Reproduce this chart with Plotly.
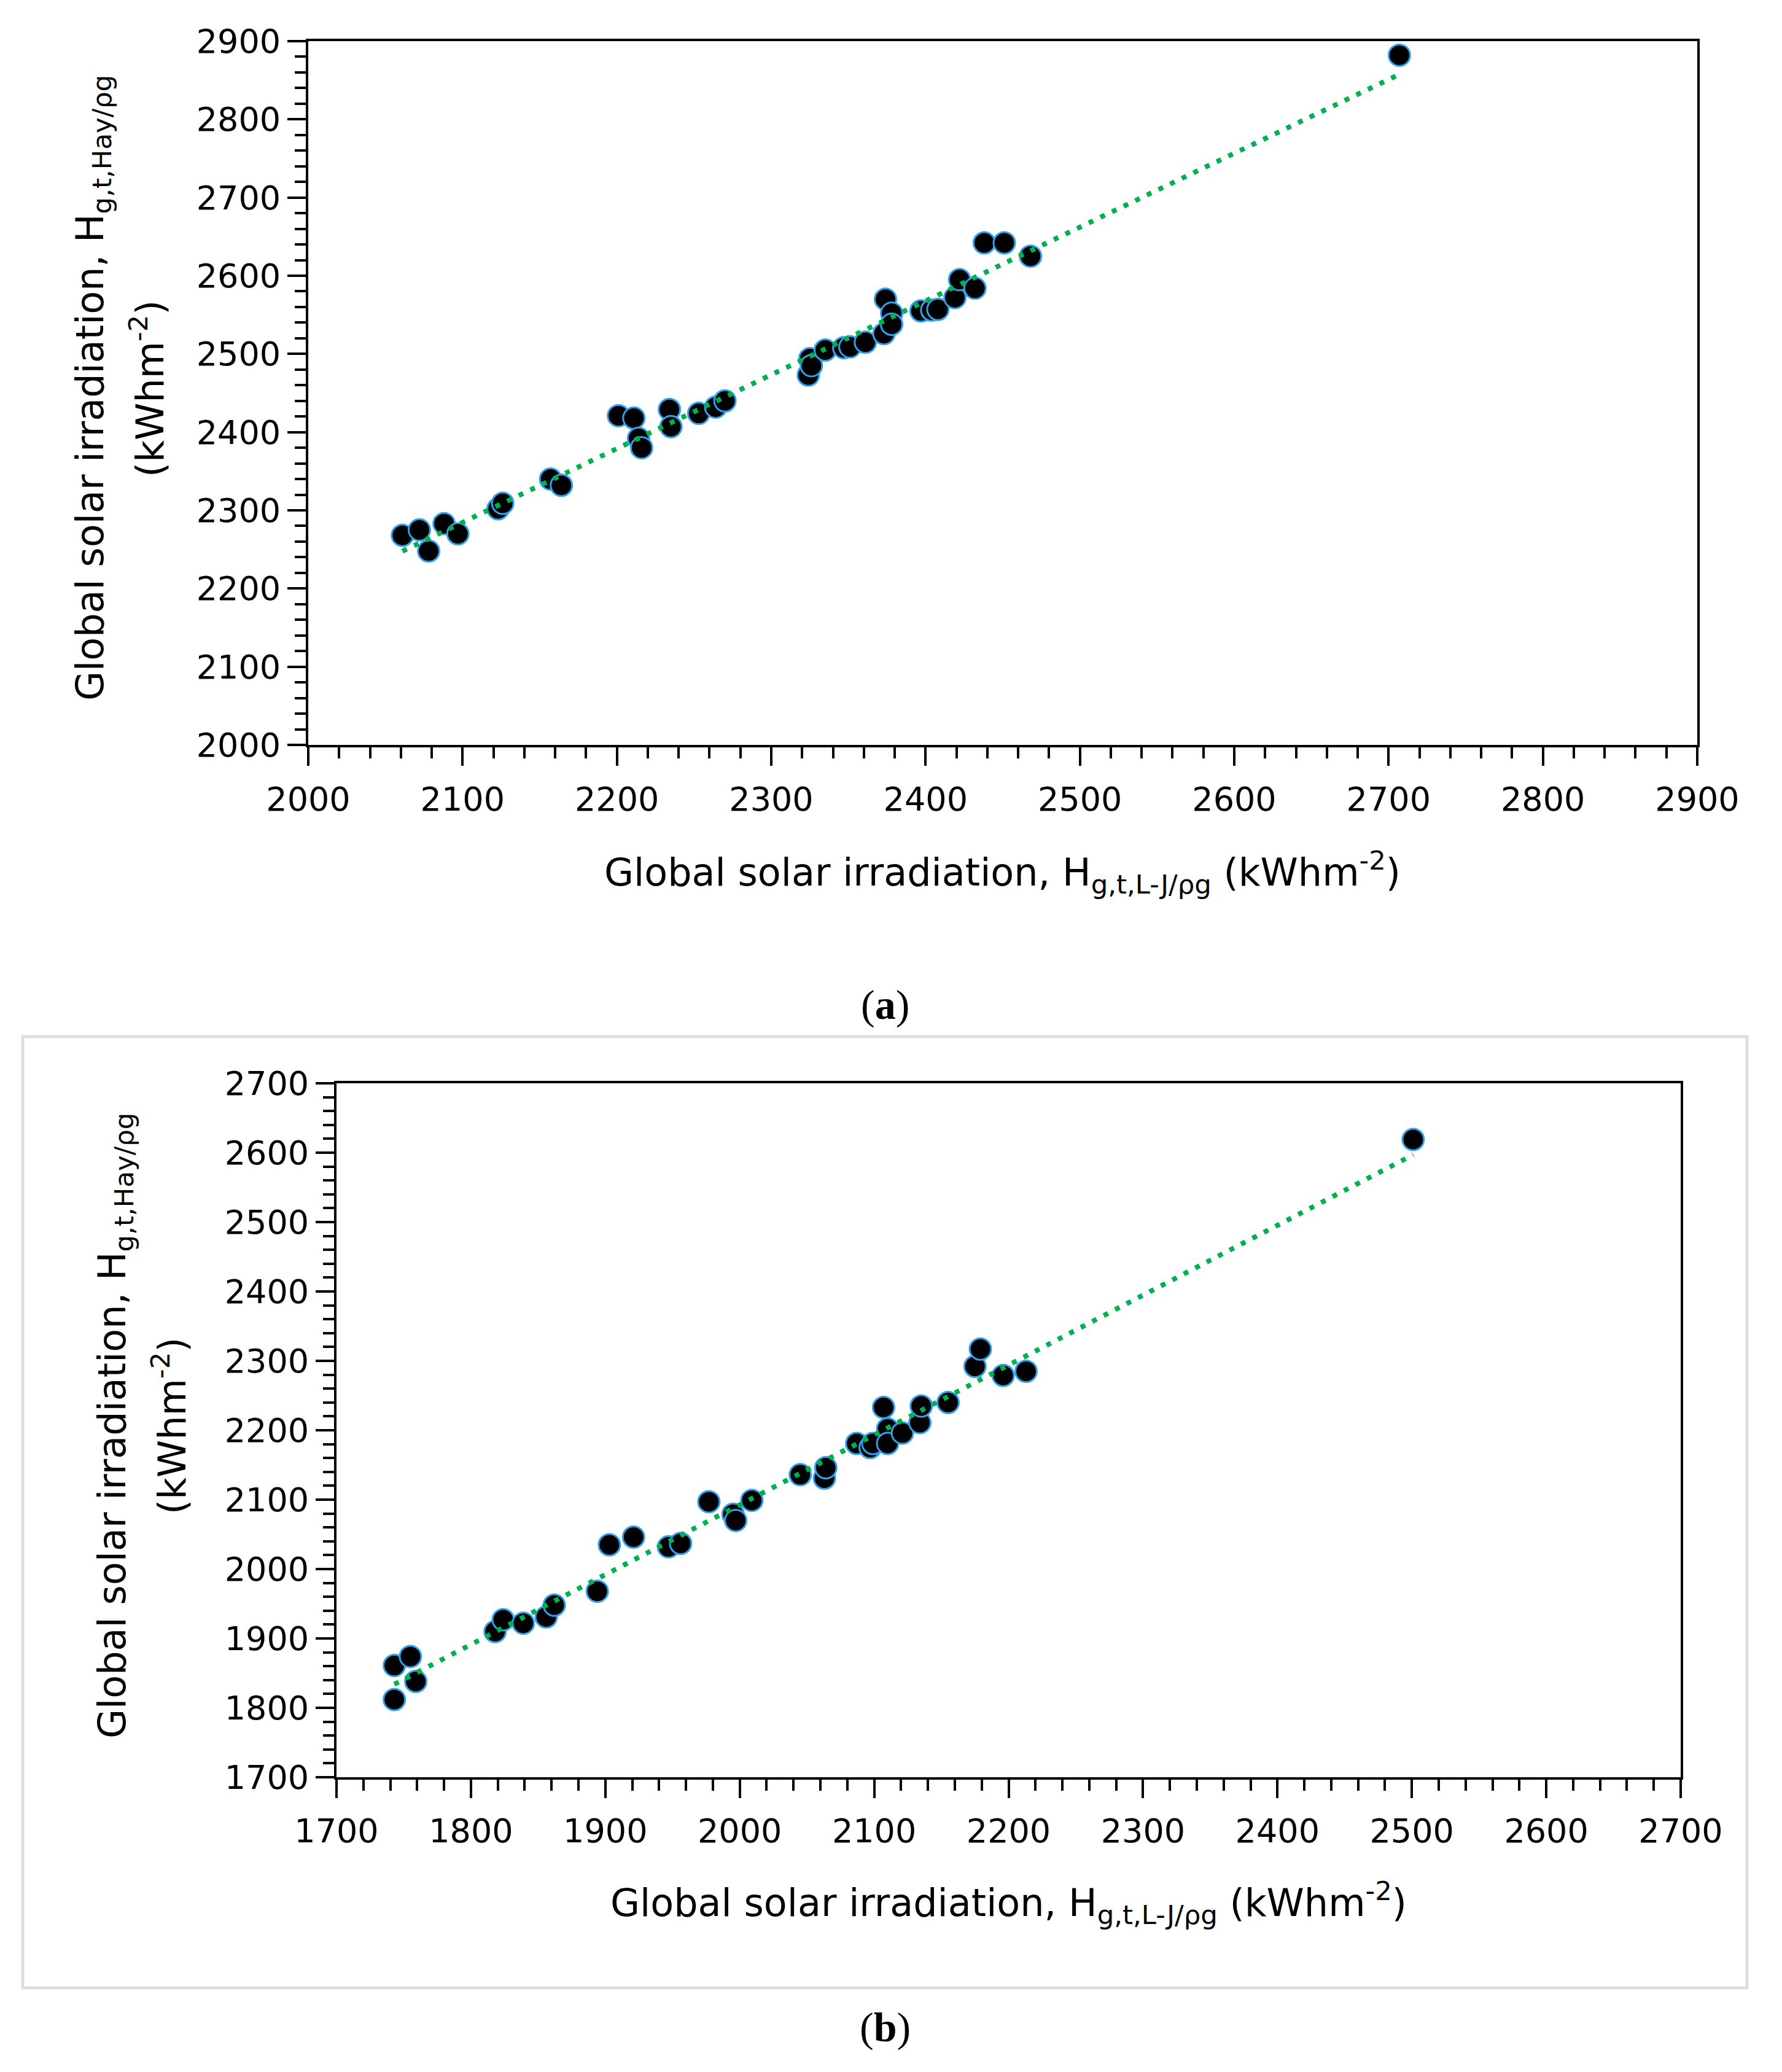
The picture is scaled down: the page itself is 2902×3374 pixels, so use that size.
import numpy as np
import plotly.graph_objects as go

W, H = 2902, 3374
OFF = 8  # page body margin in the browser

# ---------------- data (a) ----------------
a_x = [2061, 2072, 2078, 2088, 2097, 2123, 2126, 2157, 2164, 2201, 2211, 2214, 2216,
       2234, 2235, 2253, 2264, 2270, 2324, 2325, 2326, 2335, 2347, 2351, 2361, 2373,
       2374, 2378, 2378, 2397, 2404, 2408, 2419, 2422, 2432, 2438, 2451, 2468, 2707]
a_y = [2268, 2275, 2248, 2283, 2270, 2302, 2309, 2340, 2332, 2421, 2418, 2392, 2380,
       2429, 2407, 2424, 2432, 2440, 2473, 2494, 2485, 2505, 2508, 2509, 2515, 2526,
       2570, 2552, 2538, 2555, 2556, 2557, 2572, 2595, 2584, 2642, 2642, 2625, 2882]

# ---------------- data (b) ----------------
b_x = [1743, 1743, 1755, 1759, 1818, 1824, 1839, 1856, 1862, 1894, 1903, 1921, 1947,
       1956, 1977, 1995, 1997, 2009, 2045, 2063, 2064, 2087, 2097, 2099, 2107, 2110,
       2110, 2121, 2134, 2135, 2155, 2175, 2179, 2196, 2213, 2501]
b_y = [1812, 1861, 1874, 1838, 1910, 1927, 1922, 1931, 1948, 1968, 2035, 2046, 2032,
       2037, 2097, 2079, 2070, 2099, 2136, 2131, 2146, 2181, 2175, 2181, 2233, 2202,
       2181, 2196, 2211, 2235, 2240, 2292, 2317, 2279, 2285, 2619]

a_range = [2000, 2900]
b_range = [1700, 2700]

x_title = "Global solar irradiation, H<sub>g,t,L-J/ρg</sub> (kWhm<sup>-2</sup>)"
y_title1 = "Global solar irradiation, H<sub>g,t,Hay/ρg</sub>"
y_title2 = "(kWhm<sup>-2</sup>)"

# ---------------- styles ----------------
MARKER = dict(size=35, color="black", line=dict(color="rgb(50,160,235)", width=3))
TREND = dict(color="#00b050", width=8, dash="8px,13px")
TICKFONT = dict(family="DejaVu Sans", size=54, color="black")
TITLEFONT = dict(family="DejaVu Sans", size=62, color="black")


def trend(xs, ys):
    k, c = np.polyfit(xs, ys, 1)
    xx = [min(xs), max(xs)]
    return xx, [k * v + c for v in xx]


def px_x(p):
    return (p - OFF) / W


def px_y(p):
    return 1 - (p - OFF) / H


def axis(rng, domain, anchor, standoff=0):
    return dict(
        range=rng, domain=domain, anchor=anchor, dtick=100, tick0=rng[0],
        automargin=False, ticklabelstandoff=standoff,
        ticks="outside", ticklen=30, tickwidth=4, tickcolor="black",
        showline=True, linewidth=4, linecolor="black", mirror=True,
        showgrid=False, zeroline=False, tickfont=TICKFONT,
        minor=dict(dtick=20, ticks="outside", ticklen=18, tickwidth=4,
                   tickcolor="black", showgrid=False),
    )


fig = go.Figure()

fig.add_trace(go.Scatter(x=a_x, y=a_y, mode="markers", marker=MARKER,
                         xaxis="x", yaxis="y"))
tx, ty = trend(a_x, a_y)
fig.add_trace(go.Scatter(x=tx, y=ty, mode="lines", line=TREND, xaxis="x", yaxis="y"))

fig.add_trace(go.Scatter(x=b_x, y=b_y, mode="markers", marker=MARKER,
                         xaxis="x2", yaxis="y2"))
tx, ty = trend(b_x, b_y)
fig.add_trace(go.Scatter(x=tx, y=ty, mode="lines", line=TREND, xaxis="x2", yaxis="y2"))

# plot-area geometry (pixels in the final picture)
A_L, A_R, A_T, A_B = 502, 2764, 67, 1213
B_L, B_R, B_T, B_B = 548, 2737, 1764, 2894

fig.update_layout(
    template="none",
    width=W, height=H, margin=dict(l=0, r=0, t=0, b=0, autoexpand=False),
    paper_bgcolor="white", plot_bgcolor="white", showlegend=False,
    xaxis=axis(a_range, [px_x(A_L), px_x(A_R)], "y", standoff=8),
    yaxis=axis(a_range, [px_y(A_B), px_y(A_T)], "x"),
    xaxis2=axis(b_range, [px_x(B_L), px_x(B_R)], "y2", standoff=7),
    yaxis2=axis(b_range, [px_y(B_B), px_y(B_T)], "x2"),
)

ann = []
# x titles
ann.append(dict(text=x_title, x=px_x((A_L + A_R) / 2), y=px_y(1420), xref="paper", yref="paper",
                xanchor="center", yanchor="middle", showarrow=False, font=TITLEFONT))
ann.append(dict(text=x_title, x=px_x((B_L + B_R) / 2), y=px_y(3098), xref="paper", yref="paper",
                xanchor="center", yanchor="middle", showarrow=False, font=TITLEFONT))
# y titles (two lines each)
for (x1, x2, yc) in [(150, 240, 632), (186, 276, 2322)]:
    ann.append(dict(text=y_title1, x=px_x(x1), y=px_y(yc), xref="paper", yref="paper",
                    xanchor="center", yanchor="middle", textangle=-90, showarrow=False,
                    font=TITLEFONT))
    ann.append(dict(text=y_title2, x=px_x(x2), y=px_y(yc), xref="paper", yref="paper",
                    xanchor="center", yanchor="middle", textangle=-90, showarrow=False,
                    font=TITLEFONT))
# captions
CAPFONT = dict(family="Liberation Serif", size=68, color="black")
ann.append(dict(text="(<b>a</b>)", x=px_x(1441), y=px_y(1636), xref="paper", yref="paper",
                xanchor="center", yanchor="middle", showarrow=False, font=CAPFONT))
ann.append(dict(text="(<b>b</b>)", x=px_x(1441), y=px_y(3301), xref="paper", yref="paper",
                xanchor="center", yanchor="middle", showarrow=False, font=CAPFONT))
fig.update_layout(annotations=ann)

# light grey frame around panel (b)
fig.add_shape(type="rect", xref="paper", yref="paper",
              x0=px_x(37), x1=px_x(2845), y0=px_y(3237), y1=px_y(1688),
              line=dict(color="#dedede", width=5), layer="below")

fig.write_html("out.html")
